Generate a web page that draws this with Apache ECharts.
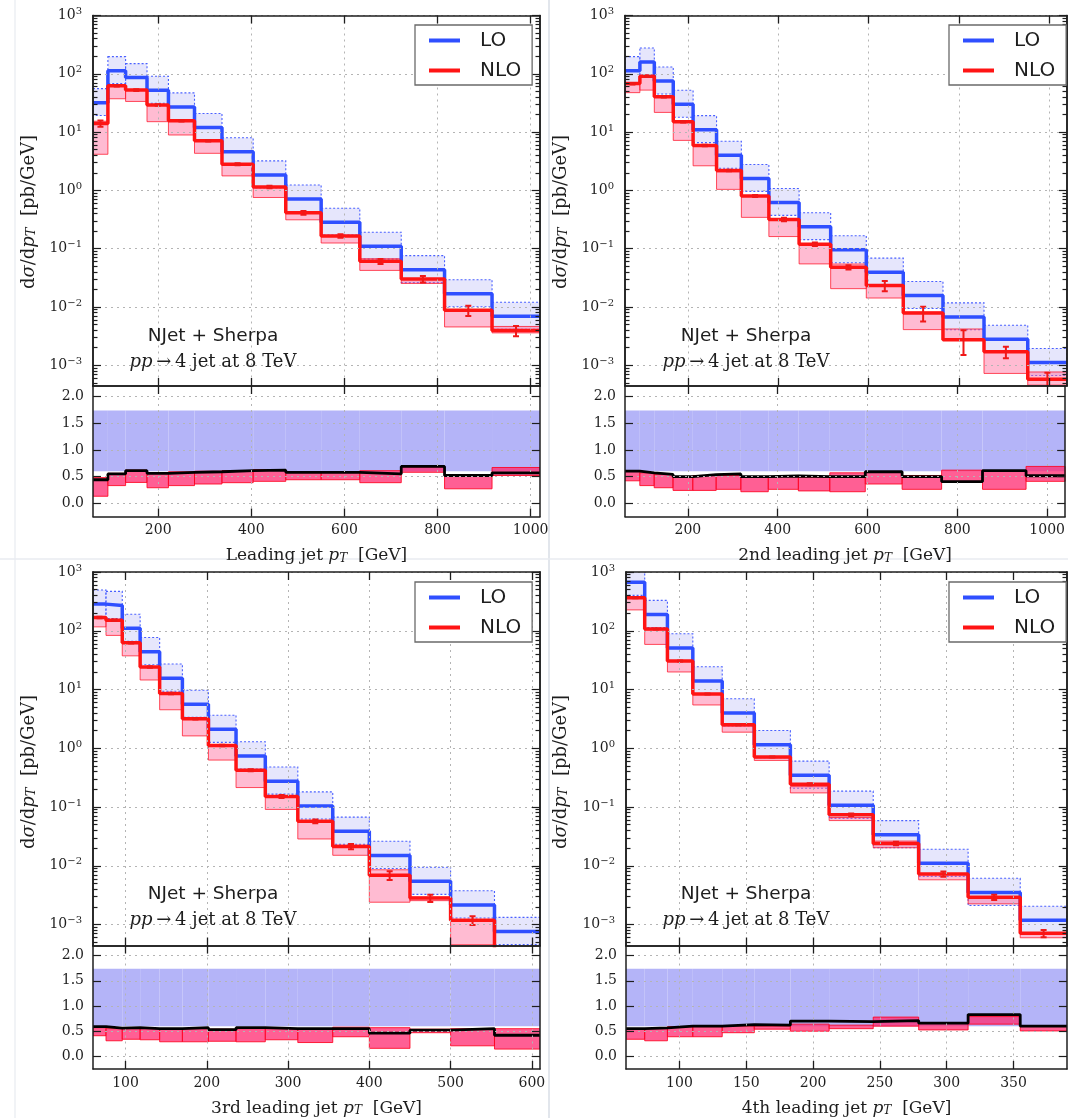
<!DOCTYPE html>
<html>
<head>
<meta charset="utf-8">
<script src="https://cdn.jsdelivr.net/npm/echarts@6/dist/echarts.min.js"></script>
<style>
html, body { margin: 0; padding: 0; background: #fff; }
#chart { width: 1068px; height: 1118px; }
</style>
</head>
<body>
<div id="chart"></div>
<script>
var serif = 'DejaVu Serif';
var sans = 'DejaVu Sans';
var ink = '#1e1e1e';

// ---- values ----
// bin edges [GeV], LO central value [pb/GeV], NLO/LO ratio, NLO scale band / LO, NLO stat. error (relative)
var jet1Edges = [60, 92, 130, 176, 222, 278, 337, 404, 474, 550, 633, 722, 815, 917, 1020];
var jet1LO = [32, 113, 86, 52, 27, 12, 4.6, 1.84, 0.71, 0.284, 0.11, 0.0436, 0.0168, 0.0069];
var jet1Ratio = [0.44, 0.55, 0.61, 0.56, 0.58, 0.59, 0.61, 0.62, 0.58, 0.58, 0.55, 0.69, 0.52, 0.57];
var jet1BandHi = [0.48, 0.56, 0.62, 0.56, 0.59, 0.6, 0.61, 0.63, 0.59, 0.59, 0.61, 0.68, 0.52, 0.67];
var jet1BandLo = [0.13, 0.33, 0.39, 0.29, 0.33, 0.36, 0.385, 0.41, 0.44, 0.44, 0.385, 0.58, 0.27, 0.52];
var jet1Err = [0.12, 0.03, 0.03, 0.03, 0.03, 0.03, 0.04, 0.05, 0.07, 0.07, 0.1, 0.13, 0.2, 0.2];
var jet1Ticks = [200, 400, 600, 800, 1000];

var jet2Edges = [60, 93, 125, 167, 211, 263, 318, 379, 446, 516, 595, 677, 765, 856, 953, 1040];
var jet2LO = [113, 159, 75, 30, 11, 4.0, 1.6, 0.62, 0.238, 0.0957, 0.0395, 0.0157, 0.00675, 0.00278, 0.00111];
var jet2Ratio = [0.6, 0.57, 0.54, 0.5, 0.535, 0.55, 0.5, 0.51, 0.5, 0.5, 0.59, 0.5, 0.405, 0.61, 0.515];
var jet2BandHi = [0.61, 0.57, 0.54, 0.5, 0.52, 0.52, 0.5, 0.5, 0.49, 0.57, 0.58, 0.52, 0.62, 0.61, 0.69];
var jet2BandLo = [0.42, 0.33, 0.29, 0.24, 0.24, 0.26, 0.215, 0.26, 0.23, 0.215, 0.36, 0.26, 0.405, 0.26, 0.41];
var jet2Err = [0.03, 0.03, 0.03, 0.03, 0.03, 0.03, 0.04, 0.07, 0.07, 0.08, 0.2, 0.28, 0.45, 0.22, 0.3];
var jet2Ticks = [200, 400, 600, 800, 1000];

var jet3Edges = [60, 76, 96, 118, 142, 170, 202, 236, 272, 312, 355, 400, 450, 500, 554, 610];
var jet3LO = [284, 269, 110, 44, 15.6, 5.6, 2.1, 0.74, 0.276, 0.104, 0.0387, 0.015, 0.00543, 0.00216, 0.00076];
var jet3Ratio = [0.59, 0.56, 0.57, 0.55, 0.55, 0.57, 0.53, 0.57, 0.55, 0.55, 0.55, 0.46, 0.52, 0.55, 0.42];
var jet3BandHi = [0.57, 0.55, 0.55, 0.55, 0.55, 0.55, 0.54, 0.55, 0.55, 0.55, 0.58, 0.57, 0.54, 0.55, 0.55];
var jet3BandLo = [0.41, 0.31, 0.34, 0.33, 0.29, 0.29, 0.3, 0.29, 0.33, 0.275, 0.39, 0.16, 0.47, 0.21, 0.145];
var jet3Err = [0.03, 0.03, 0.03, 0.03, 0.03, 0.03, 0.03, 0.04, 0.06, 0.07, 0.1, 0.17, 0.14, 0.17, 0.2];
var jet3Ticks = [100, 200, 300, 400, 500, 600];

var jet4Edges = [60, 74, 91, 110, 132, 156, 183, 212, 245, 279, 316, 355, 390];
var jet4LO = [666, 189, 51, 14, 4.0, 1.15, 0.348, 0.107, 0.0338, 0.011, 0.00352, 0.00118];
var jet4Ratio = [0.55, 0.565, 0.6, 0.6, 0.63, 0.62, 0.7, 0.69, 0.71, 0.66, 0.83, 0.6];
var jet4BandHi = [0.54, 0.55, 0.59, 0.59, 0.6, 0.6, 0.64, 0.62, 0.78, 0.655, 0.79, 0.6];
var jet4BandLo = [0.34, 0.31, 0.39, 0.39, 0.47, 0.54, 0.5, 0.55, 0.6, 0.525, 0.64, 0.505];
var jet4Err = [0.02, 0.02, 0.02, 0.02, 0.02, 0.02, 0.04, 0.05, 0.07, 0.1, 0.1, 0.14];
var jet4Ticks = [100, 150, 200, 250, 300, 350];

// LO scale band relative to LO (same in every panel)
var loBandLo = 0.6;
var loBandHi = 1.74;

var yTicks = [0.001, 0.01, 0.1, 1, 10, 100, 1000];
var ratioTicks = [0, 0.5, 1, 1.5, 2];
var xTitles = ['Leading jet ', '2nd leading jet ', '3rd leading jet ', '4th leading jet '];

// minor log ticks 2..9 x 10^k
var yMinor = [];
for (var k = -4; k <= 2; k++) {
  for (var m = 2; m <= 9; m++) yMinor.push(m * Math.pow(10, k));
}

var panels = [
  {edges: jet1Edges, lo: jet1LO, ratio: jet1Ratio, hi: jet1BandHi, low: jet1BandLo, err: jet1Err, ticks: jet1Ticks,
   left: 93, right: 540, top: 15.5, split: 386, bottom: 516.5, leg: [415, 25], note: [213, 336], yName: [29, 212]},
  {edges: jet2Edges, lo: jet2LO, ratio: jet2Ratio, hi: jet2BandHi, low: jet2BandLo, err: jet2Err, ticks: jet2Ticks,
   left: 625, right: 1067, top: 15.5, split: 386, bottom: 516.5, leg: [949, 25], note: [746, 336], yName: [561, 212]},
  {edges: jet3Edges, lo: jet3LO, ratio: jet3Ratio, hi: jet3BandHi, low: jet3BandLo, err: jet3Err, ticks: jet3Ticks,
   left: 93, right: 540, top: 572, split: 945.5, bottom: 1075, leg: [415, 582], note: [213, 894], yName: [29, 772]},
  {edges: jet4Edges, lo: jet4LO, ratio: jet4Ratio, hi: jet4BandHi, low: jet4BandLo, err: jet4Err, ticks: jet4Ticks,
   left: 626, right: 1067, top: 572, split: 945.5, bottom: 1075, leg: [949, 582], note: [746, 894], yName: [561, 772]}
];

var gridLine = {show: true, lineStyle: {color: '#b4b4b4', width: 1, type: [2, 4]}};

function stepData(edges, vals) {
  var out = [];
  for (var i = 0; i < edges.length; i++) {
    out.push([edges[i], vals[Math.min(i, vals.length - 1)]]);
  }
  return out;
}

function rectItem(fill, stroke, dash, width) {
  return function (params, api) {
    var a = api.coord([api.value(0), api.value(3)]);
    var b = api.coord([api.value(1), api.value(2)]);
    return {
      type: 'rect',
      shape: {x: a[0], y: a[1], width: b[0] - a[0], height: b[1] - a[1]},
      style: {fill: fill, stroke: stroke, lineWidth: width, lineDash: dash}
    };
  };
}

function errItem(params, api) {
  var t = api.coord([api.value(0), api.value(2)]);
  var b = api.coord([api.value(0), api.value(1)]);
  var st = {stroke: '#f01818', lineWidth: 2};
  return {
    type: 'group',
    children: [
      {type: 'line', shape: {x1: t[0], y1: t[1], x2: b[0], y2: b[1]}, style: st},
      {type: 'line', shape: {x1: t[0] - 3, y1: t[1], x2: t[0] + 3, y2: t[1]}, style: st},
      {type: 'line', shape: {x1: b[0] - 3, y1: b[1], x2: b[0] + 3, y2: b[1]}, style: st}
    ]
  };
}

function powLabel(v) {
  var e = Math.round(Math.log10(v));
  return '{b|10}{e|' + (e < 0 ? '\u2212' + (-e) : e) + '}';
}

var powRich = {
  b: {fontFamily: serif, fontSize: 14, color: ink, lineHeight: 18},
  e: {fontFamily: serif, fontSize: 10, color: ink, lineHeight: 10, verticalAlign: 'top'}
};

function xAx(grid, p, pos, labels, split, name) {
  var ax = {
    gridIndex: grid, type: 'value', position: pos, z: 10,
    min: p.edges[0], max: p.edges[p.edges.length - 1],
    axisLine: {show: true, onZero: false, lineStyle: {color: ink, width: 1.5}},
    axisTick: {show: true, inside: true, length: 8, customValues: p.ticks, lineStyle: {color: ink, width: 1.3}},
    axisLabel: {show: labels, customValues: p.ticks, margin: 7, fontFamily: serif, fontSize: 14, color: ink,
      formatter: function (v) { return String(v); }},
    splitLine: split ? gridLine : {show: false}
  };
  if (name) {
    ax.name = name;
    ax.nameLocation = 'middle';
    ax.nameGap = 31;
    ax.nameTextStyle = {
      rich: {
        r: {fontFamily: serif, fontSize: 17, color: ink},
        i: {fontFamily: serif, fontStyle: 'italic', fontSize: 17, color: ink},
        s: {fontFamily: serif, fontStyle: 'italic', fontSize: 12, color: ink, verticalAlign: 'bottom'}
      }
    };
  }
  return ax;
}

function yLog(grid, pos, ticks, len, labels, split) {
  return {
    gridIndex: grid, type: 'log', logBase: 10, min: 4.4e-4, max: 1000, position: pos, z: 10,
    axisLine: {show: true, onZero: false, lineStyle: {color: ink, width: 1.5}},
    axisTick: {show: true, inside: true, length: len, customValues: ticks, lineStyle: {color: ink, width: 1.2}},
    axisLabel: labels ? {customValues: ticks, margin: 11, formatter: powLabel, rich: powRich} : {show: false},
    splitLine: split ? gridLine : {show: false}
  };
}

function yRatio(grid, pos, labels) {
  return {
    gridIndex: grid, type: 'value', min: -0.25, max: 2.2, position: pos, z: 10,
    axisLine: {show: true, onZero: false, lineStyle: {color: ink, width: 1.5}},
    axisTick: {show: true, inside: true, length: 8, customValues: ratioTicks, lineStyle: {color: ink, width: 1.2}},
    axisLabel: labels ? {customValues: ratioTicks, margin: 9, fontFamily: serif, fontSize: 14, color: ink,
      formatter: function (v) { return v.toFixed(1); }} : {show: false},
    splitLine: labels ? gridLine : {show: false}
  };
}

var grids = [], xAxes = [], yAxes = [], series = [], legends = [], graphics = [];

panels.forEach(function (p, i) {
  var gm = 2 * i, gr = 2 * i + 1;
  var w = p.right - p.left;
  grids.push({left: p.left, top: p.top, width: w, height: p.split - p.top});
  grids.push({left: p.left, top: p.split, width: w, height: p.bottom - p.split});

  var xm = xAxes.length;
  xAxes.push(xAx(gm, p, 'bottom', false, true));
  xAxes.push(xAx(gm, p, 'top', false, false));
  var xr = xAxes.length;
  xAxes.push(xAx(gr, p, 'bottom', true, true,
    '{r|' + xTitles[i] + '}{i|p}{s|T}{r|  [GeV]}'));
  xAxes.push(xAx(gr, p, 'top', false, false));

  var ym = yAxes.length;
  yAxes.push(yLog(gm, 'left', yTicks, 8, true, true));
  yAxes.push(yLog(gm, 'right', yTicks, 8, false, false));
  yAxes.push(yLog(gm, 'left', yMinor, 4.5, false, false));
  yAxes.push(yLog(gm, 'right', yMinor, 4.5, false, false));
  var yr = yAxes.length;
  yAxes.push(yRatio(gr, 'left', true));
  yAxes.push(yRatio(gr, 'right', false));

  var nlo = [], loBand = [], nloBand = [], errs = [], rLo = [], rNlo = [];
  for (var b = 0; b < p.lo.length; b++) {
    var x0 = p.edges[b], x1 = p.edges[b + 1];
    nlo.push(p.lo[b] * p.ratio[b]);
    loBand.push([x0, x1, p.lo[b] * loBandLo, p.lo[b] * loBandHi]);
    nloBand.push([x0, x1, p.lo[b] * p.low[b], p.lo[b] * p.hi[b]]);
    var v = p.lo[b] * p.ratio[b];
    errs.push([(x0 + x1) / 2, v * (1 - p.err[b]), v * (1 + p.err[b])]);
    rLo.push([x0, x1, loBandLo, loBandHi]);
    rNlo.push([x0, x1, p.low[b], p.hi[b]]);
  }

  series.push({
    type: 'custom', xAxisIndex: xm, yAxisIndex: ym, clip: true, z: 1, silent: true,
    renderItem: rectItem('rgba(200,200,248,0.45)', '#4a60ff', [2, 2], 1.1),
    encode: {x: [0, 1], y: [2, 3]}, data: loBand
  });
  series.push({
    type: 'custom', xAxisIndex: xm, yAxisIndex: ym, clip: true, z: 2, silent: true,
    renderItem: rectItem('rgba(255,105,155,0.45)', 'rgba(255,20,40,0.75)', null, 1),
    encode: {x: [0, 1], y: [2, 3]}, data: nloBand
  });
  series.push({
    type: 'line', name: 'LO', xAxisIndex: xm, yAxisIndex: ym, step: 'end', symbol: 'none', z: 4,
    lineStyle: {color: '#2f4fff', width: 3.5}, itemStyle: {color: '#2f4fff'},
    data: stepData(p.edges, p.lo)
  });
  series.push({
    type: 'line', name: 'NLO', xAxisIndex: xm, yAxisIndex: ym, step: 'end', symbol: 'none', z: 5,
    lineStyle: {color: '#ff1414', width: 3.5}, itemStyle: {color: '#ff1414'},
    data: stepData(p.edges, nlo)
  });
  series.push({
    type: 'custom', xAxisIndex: xm, yAxisIndex: ym, clip: true, z: 6, silent: true,
    renderItem: errItem, encode: {x: 0, y: [1, 2]}, data: errs
  });

  // ratio panel
  series.push({
    type: 'custom', xAxisIndex: xr, yAxisIndex: yr, clip: true, z: 1, silent: true,
    renderItem: rectItem('#b4b4f8', null, null, 0),
    encode: {x: [0, 1], y: [2, 3]}, data: rLo
  });
  series.push({
    type: 'custom', xAxisIndex: xr, yAxisIndex: yr, clip: true, z: 2, silent: true,
    renderItem: rectItem('rgba(255,45,115,0.76)', 'rgba(255,0,30,0.85)', null, 1),
    encode: {x: [0, 1], y: [2, 3]}, data: rNlo
  });
  series.push({
    type: 'line', xAxisIndex: xr, yAxisIndex: yr, step: 'end', symbol: 'none', z: 5, silent: true,
    lineStyle: {color: '#000', width: 2.8},
    data: stepData(p.edges, p.ratio)
  });

  legends.push({
    left: p.leg[0], top: p.leg[1], orient: 'vertical', z: 20,
    data: [{name: 'LO', icon: 'rect'}, {name: 'NLO', icon: 'rect'}],
    itemWidth: 31, itemHeight: 4, itemGap: 9,
    padding: [5, 11, 4, 14],
    borderColor: '#6a6a6a', borderWidth: 1.3, backgroundColor: '#fff',
    textStyle: {fontFamily: sans, fontSize: 20, color: ink, lineHeight: 21, padding: [0, 0, 0, 15]}
  });

  graphics.push({
    type: 'text', x: p.note[0], y: p.note[1], z: 20,
    style: {text: 'NJet + Sherpa', font: '18.5px "DejaVu Sans"', fill: ink, align: 'center', verticalAlign: 'middle'}
  });
  graphics.push({
    type: 'text', x: p.note[0], y: p.note[1] + 26, z: 20,
    style: {
      text: '{i|pp}{r|\u2009\u2192\u20094 jet at 8 TeV}', align: 'center', verticalAlign: 'middle',
      rich: {
        i: {fontFamily: serif, fontStyle: 'italic', fontSize: 18, fill: ink},
        r: {fontFamily: serif, fontSize: 18, fill: ink}
      }
    }
  });
  graphics.push({
    type: 'text', x: p.yName[0], y: p.yName[1], rotation: Math.PI / 2, z: 20,
    style: {
      text: '{r|d}{i|\u03c3}{r|/d}{i|p}{s|T}{r|  [pb/GeV]}', align: 'center', verticalAlign: 'middle',
      rich: {
        r: {fontFamily: serif, fontSize: 18, fill: ink},
        i: {fontFamily: serif, fontStyle: 'italic', fontSize: 18, fill: ink},
        s: {fontFamily: serif, fontStyle: 'italic', fontSize: 13, fill: ink, verticalAlign: 'bottom'}
      }
    }
  });
});

// faint page edges of the pasted sub-figures
graphics.push({type: 'line', shape: {x1: 15, y1: 0, x2: 15, y2: 1118}, style: {stroke: '#eceff3', lineWidth: 1.5}, z: 0});
graphics.push({type: 'line', shape: {x1: 549, y1: 0, x2: 549, y2: 1118}, style: {stroke: '#e2e6ec', lineWidth: 2}, z: 0});
graphics.push({type: 'line', shape: {x1: 0, y1: 559, x2: 1068, y2: 559}, style: {stroke: '#e8ebf0', lineWidth: 1.5}, z: 0});

var chart = echarts.init(document.getElementById('chart'));
chart.setOption({
  animation: false,
  backgroundColor: '#fff',
  grid: grids,
  xAxis: xAxes,
  yAxis: yAxes,
  legend: legends,
  graphic: graphics,
  series: series
});
</script>
</body>
</html>
